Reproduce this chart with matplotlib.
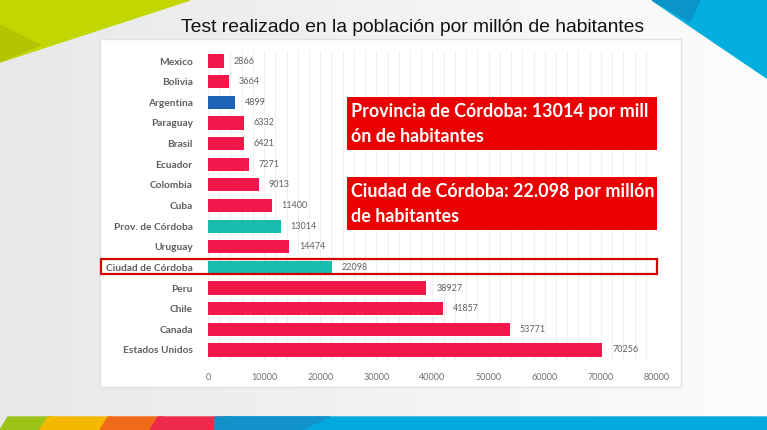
import numpy as np
import matplotlib.pyplot as plt
from matplotlib.patches import Polygon, Rectangle

# DATA: tests per million inhabitants
countries = ["Mexico", "Bolivia", "Argentina", "Paraguay", "Brasil", "Ecuador",
             "Colombia", "Cuba", "Prov. de Córdoba", "Uruguay", "Ciudad de Córdoba",
             "Peru", "Chile", "Canada", "Estados Unidos"]
values = [2866, 3664, 4899, 6332, 6421, 7271, 9013, 11400, 13014, 14474,
          22098, 38927, 41857, 53771, 70256]
groups = ["pais", "pais", "argentina", "pais", "pais", "pais", "pais", "pais",
          "cordoba", "pais", "cordoba", "pais", "pais", "pais", "pais"]
x_ticks = [0, 10000, 20000, 30000, 40000, 50000, 60000, 70000, 80000]

title = "Test realizado en la población por millón de habitantes"
note_prov = "Provincia de Córdoba: 13014 por mill\nón de habitantes"
note_city = "Ciudad de Córdoba: 22.098 por millón\nde habitantes"

colors = {"pais": "#f2174a", "argentina": "#1d62b4", "cordoba": "#19bdb0"}

W, H = 767, 430
fig = plt.figure(figsize=(W / 100, H / 100), dpi=100)

# background layer in pixel coordinates
bg = fig.add_axes([0, 0, 1, 1])
bg.set_xlim(0, W)
bg.set_ylim(H, 0)
bg.axis("off")
grad = np.linspace(0.91, 0.99, 256).reshape(1, -1)
bg.imshow(np.dstack([grad, grad, grad]), extent=[0, W, H, 0], aspect="auto", zorder=0)

# top-left green corner
bg.add_patch(Polygon([(0, 0), (190, 0), (0, 62)], color="#c4d600", zorder=1))
bg.add_patch(Polygon([(0, 25), (40, 45), (0, 62)], color="#b3c400", zorder=1))
# top-right blue corner
bg.add_patch(Polygon([(652, 0), (767, 0), (767, 78)], color="#04aede", zorder=1))
bg.add_patch(Polygon([(652, 0), (700, 0), (690, 22)], color="#0a95c9", zorder=1))
# bottom multicolour strip
strip = [("#9cc31a", 0, 45), ("#f5b800", 40, 105), ("#f06a1c", 100, 155),
         ("#ee2a4a", 150, 222), ("#03a9df", 215, 767)]
for c, x0, x1 in strip:
    bg.add_patch(Polygon([(x0 + 8, 417), (x1 + 8, 417), (x1, H), (x0, H)],
                         color=c, zorder=1))
bg.add_patch(Polygon([(215, 417), (330, 417), (300, H), (215, H)], color="#1192c8", zorder=1))

# white chart panel
bg.add_patch(Rectangle((100, 39), 581, 348, facecolor="white",
                       edgecolor="#e2e2e2", lw=1, zorder=2))

bg.text(413, 27, title, ha="center", va="center", fontsize=13.9,
        family="Liberation Sans", color="#111111", zorder=3)

# main chart
left, right = 208 / W, 657 / W
top_px, bot_px = 50.7, 360.3
ax = fig.add_axes([left, 1 - bot_px / H, right - left, (bot_px - top_px) / H])
ax.patch.set_alpha(0)
y = np.arange(len(countries))
bar_colors = [colors[g] for g in groups]
ax.barh(y, values, height=0.64, color=bar_colors, zorder=3)
ax.set_ylim(len(countries) - 0.5, -0.5)
ax.set_xlim(0, 80000)
ax.set_xticks(x_ticks)
ax.set_xticklabels([str(t) for t in x_ticks], fontsize=6.5, color="#707070",
                   family="Lato")
ax.set_xticks(np.arange(0, 80001, 2000), minor=True)
ax.set_yticks(y)
ax.set_yticklabels(countries, fontsize=7.3, color="#5e5e5e", family="Lato",
                   fontweight="bold")
ax.tick_params(length=0, which="both")
ax.tick_params(axis="y", pad=11)
ax.tick_params(axis="x", pad=9)
ax.grid(axis="x", which="both", color="#f0f0f0", lw=0.8, zorder=0)
for s in ax.spines.values():
    s.set_visible(False)

for yi, v in zip(y, values):
    ax.annotate(str(v), (v, yi), xytext=(7, 0), textcoords="offset points",
                va="center", ha="left", fontsize=6.5, color="#606060",
                family="Lato", zorder=4)

# overlay layer for highlight row and notes
top = fig.add_axes([0, 0, 1, 1])
top.set_xlim(0, W)
top.set_ylim(H, 0)
top.axis("off")
top.patch.set_alpha(0)
top.add_patch(Rectangle((101, 259), 556, 15, fill=False, edgecolor="#d40000",
                        lw=1.6))
for y0, txt in [(97, note_prov), (177, note_city)]:
    top.add_patch(Rectangle((347, y0), 310, 53, facecolor="#ea0000",
                            edgecolor="none"))
    top.text(351, y0 + 27, txt, ha="left", va="center", fontsize=12.9,
             family="Lato", fontweight="bold", color="white",
             linespacing=1.5)

fig.savefig("out.png", dpi=100)
